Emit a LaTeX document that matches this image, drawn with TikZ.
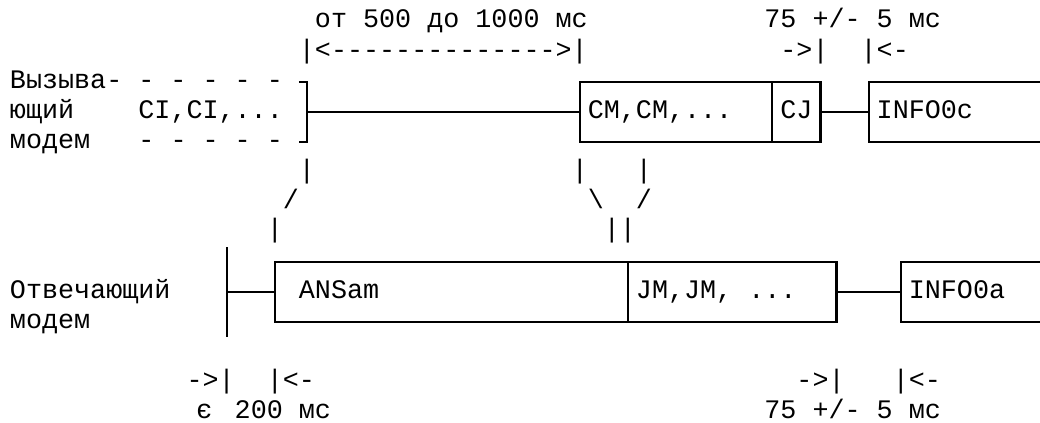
\documentclass[tikz,border=0pt]{standalone}
\usepackage{fontspec}
\setmonofont{Liberation Mono}
\tikzset{
  txt/.style={anchor=base west, inner sep=0pt, outer sep=0pt, font=\ttfamily\fontsize{13.375}{15}\selectfont},
  boxline/.style={line width=1.1pt, line cap=butt, line join=miter}
}
\begin{document}
\begin{tikzpicture}[x=8.025pt,y=-15pt]
\useasboundingbox[fill=white] (0,0) rectangle (64.798,14.1);
\begin{scope}[shift={(0.623,0.2333)}]
% ---------- top labels ----------
\node[txt] (t1) at (19,0.7) {от 500 до 1000 мс};
\node[txt] (t2) at (47,0.7) {75 +/- 5 мс};
\node[txt] (t3) at (18,1.7) {|<-------------->|};
\node[txt] (t4) at (48,1.7) {->|};
\node[txt] (t5) at (53,1.7) {|<-};
% ---------- calling modem ----------
\node[txt] (c1) at (0,2.7) {Вызыва- - - - - -};
\node[txt] (c2) at (0,3.7) {ющий};
\node[txt] (c3) at (8,3.7) {CI,CI,...};
\node[txt] (c4) at (0,4.7) {модем};
\node[txt] (c5) at (8,4.7) {- - - - -};
\node[txt] (c6) at (36,3.7) {CM,CM,...};
\node[txt] (c7) at (48,3.7) {CJ};
\node[txt] (c8) at (54,3.7) {INFO0c};
\coordinate (bt) at (18,2.5);
\coordinate (bb) at (18,4.5);
\draw[boxline] (bt) -- (18.5,2.5) -- (18.5,4.5) -- (bb);
\draw[boxline] (18.5,3.5) -- (35.5,3.5);
\draw[boxline] (35.5,2.5) rectangle (50.5,4.5);
\draw[boxline] (47.5,2.5) -- (47.5,4.5);
\draw[boxline] (50.5,3.5) -- (53.5,3.5);
\draw[boxline] (64.3,2.5) -- (53.5,2.5) -- (53.5,4.5) -- (64.3,4.5);
% ---------- links ----------
\node[txt] (l1) at (18,5.7) {|};
\node[txt] (l2) at (35,5.7) {|};
\node[txt] (l3) at (39,5.7) {|};
\node[txt] (l4) at (17,6.7) {/};
\node[txt] (l5) at (36,6.7) {\textbackslash};
\node[txt] (l6) at (39,6.7) {/};
\node[txt] (l7) at (16,7.7) {|};
\node[txt] (l8) at (37,7.7) {||};
% ---------- answering modem ----------
\node[txt] (a1) at (0,9.7) {Отвечающий};
\node[txt] (a2) at (0,10.7) {модем};
\node[txt] (a3) at (18,9.7) {ANSam};
\node[txt] (a4) at (39,9.7) {JM,JM, ...};
\node[txt] (a5) at (56,9.7) {INFO0a};
\draw[boxline] (13.5,8) -- (13.5,11);
\draw[boxline] (13.5,9.5) -- (16.5,9.5);
\draw[boxline] (16.5,8.5) rectangle (51.5,10.5);
\draw[boxline] (38.5,8.5) -- (38.5,10.5);
\draw[boxline] (51.5,9.5) -- (55.5,9.5);
\draw[boxline] (64.3,8.5) -- (55.5,8.5) -- (55.5,10.5) -- (64.3,10.5);
% ---------- bottom labels ----------
\node[txt] (b1) at (11,12.7) {->|};
\node[txt] (b2) at (16,12.7) {|<-};
\node[txt] (b3) at (49,12.7) {->|};
\node[txt] (b4) at (55,12.7) {|<-};
\node[txt] (b5) at (11.6,13.7) {є};
\node[txt] (b6) at (14,13.7) {200 мс};
\node[txt] (b7) at (47,13.7) {75 +/- 5 мс};
\end{scope}
\end{tikzpicture}
\end{document}
